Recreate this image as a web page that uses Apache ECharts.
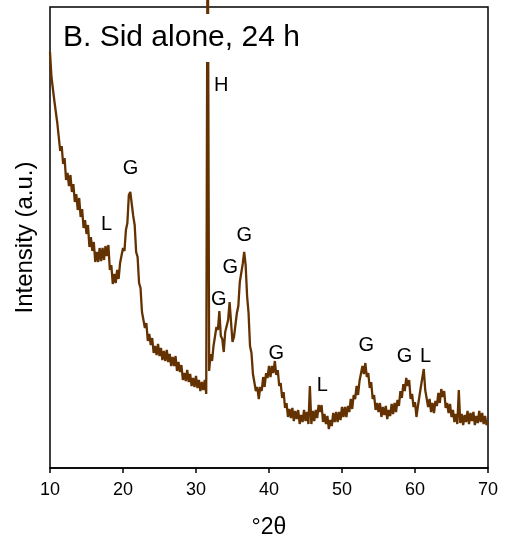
<!DOCTYPE html>
<html><head><meta charset="utf-8">
<script src="https://cdn.jsdelivr.net/npm/echarts@6/dist/echarts.min.js"></script>
<style>html,body{margin:0;padding:0;background:#fff}#c{width:505px;height:542px}</style>
</head><body><div id="c"></div>
<script>
// XRD scan: start angle and step of the scan (°2θ)
const scanStart = 10;
const scanStep = 0.2;
// intensity (a.u.), one value per step, 10.0 .. 70.0
const intensity = [
  416, 391, 393, 367, 368,
  345, 346, 317, 322, 304,
  310, 288, 295, 282, 293,
  276, 284, 266, 274, 258,
  270, 251, 259, 240, 248,
  234, 243, 221, 231, 217,
  226, 206, 216, 206, 220,
  207, 220, 208, 222, 212,
  223, 198, 203, 184, 194,
  185, 198, 189, 205, 203,
  220, 217, 238, 245, 273,
  276, 275, 252, 243, 216,
  211, 185, 180, 156, 155,
  140, 145, 127, 134, 123,
  130, 115, 122, 113, 124,
  112, 120, 108, 117, 107,
  118, 106, 114, 102, 111,
  102, 112, 97, 106, 96,
  103, 88, 95, 87, 98,
  86, 94, 82, 90, 81,
  92, 80, 88, 77, 86,
  78, 88, 74, 600, 97,
  114, 107, 122, 121, 141,
  138, 157, 132, 129, 116,
  136, 135, 148, 166, 146,
  126, 131, 129, 155, 162,
  186, 187, 204, 216, 203,
  172, 155, 122, 115, 94,
  96, 77, 81, 69, 81,
  77, 91, 81, 95, 90,
  102, 91, 102, 95, 107,
  93, 98, 82, 85, 70,
  76, 60, 65, 51, 59,
  50, 60, 47, 57, 49,
  58, 44, 53, 46, 58,
  47, 56, 44, 82, 44,
  57, 47, 58, 50, 63,
  56, 63, 46, 54, 44,
  52, 39, 48, 42, 55,
  46, 56, 46, 56, 48,
  61, 51, 61, 51, 62,
  56, 69, 59, 73, 69,
  82, 73, 87, 85, 102,
  94, 105, 91, 95, 80,
  86, 69, 73, 58, 65,
  56, 65, 51, 61, 53,
  62, 49, 58, 52, 64,
  54, 65, 56, 68, 62,
  77, 70, 84, 77, 90,
  82, 88, 69, 74, 61,
  66, 51, 62, 60, 81,
  80, 99, 78, 77, 61,
  69, 56, 65, 55, 67,
  62, 75, 65, 79, 71,
  77, 60, 65, 55, 64,
  51, 58, 46, 54, 44,
  78, 45, 54, 43, 53,
  46, 57, 44, 55, 47,
  56, 43, 52, 45, 57,
  46, 55, 44, 52, 43,
  46
];
// x-axis ticks
const xTickValues = [10, 20, 30, 40, 50, 60, 70];
// phase annotations
const peakText = ['G', 'L', 'H', 'G', 'G', 'G', 'G', 'L', 'G', 'G', 'L'];
const peakAngle = [21.04, 17.75, 33.45, 33.11, 34.69, 36.61, 40.99, 47.30, 53.34, 58.55, 61.43];
const peakLevel = [300, 244, 383, 169, 201, 233, 115, 83, 123, 112, 112];

const FONT = 'Liberation Sans, Arial, sans-serif';
const lineData = intensity.map((v, i) => [+(scanStart + i * scanStep).toFixed(2), v]);
const annoData = peakText.map((t, i) => [peakAngle[i], peakLevel[i], t]);

const chart = echarts.init(document.getElementById('c'), null, { renderer: 'canvas' });
chart.setOption({
  animation: false,
  backgroundColor: '#fff',
  title: {
    text: 'B. Sid alone, 24 h',
    left: 56, top: 14,
    padding: [9, 7, 9, 7],
    backgroundColor: '#fff',
    textStyle: { fontFamily: FONT, fontSize: 30, fontWeight: 'normal', color: '#000' }
  },
  grid: { left: 50, right: 17, top: 7, bottom: 74, show: true, borderColor: '#000', borderWidth: 1.5, backgroundColor: 'transparent', outerBoundsMode: 'none' },
  xAxis: {
    type: 'value', min: 10, max: 70, interval: 10,
    name: '°2θ', nameLocation: 'middle', nameGap: 48,
    nameTextStyle: { fontFamily: FONT, fontSize: 23, color: '#000' },
    axisLine: { show: true, lineStyle: { color: '#000', width: 1.5 } },
    axisTick: { show: true, inside: false, length: 5, lineStyle: { color: '#000', width: 1.5 } },
    axisLabel: { show: true, margin: 13, fontFamily: FONT, fontSize: 18, color: '#000',
      customValues: xTickValues },
    splitLine: { show: false }
  },
  yAxis: {
    type: 'value', min: 0, max: 461,
    name: 'Intensity (a.u.)', nameLocation: 'middle', nameGap: 13, nameRotate: 90,
    nameTextStyle: { fontFamily: FONT, fontSize: 24, color: '#000' },
    axisLine: { show: false }, axisTick: { show: false }, axisLabel: { show: false },
    splitLine: { show: false }
  },
  series: [
    {
      type: 'line', data: lineData, showSymbol: false, clip: false,
      lineStyle: { color: '#633200', width: 2.3, join: 'bevel' }, z: 2
    },
    {
      type: 'custom', data: annoData, silent: true, z: 3, clip: false,
      encode: { x: 0, y: 1 },
      renderItem: function (params, api) {
        const p = api.coord([api.value(0), api.value(1)]);
        return {
          type: 'text', x: p[0], y: p[1],
          style: { text: annoData[params.dataIndex][2], fill: '#000',
            font: '20px ' + FONT, align: 'center', verticalAlign: 'middle' }
        };
      }
    }
  ]
});
</script></body></html>
